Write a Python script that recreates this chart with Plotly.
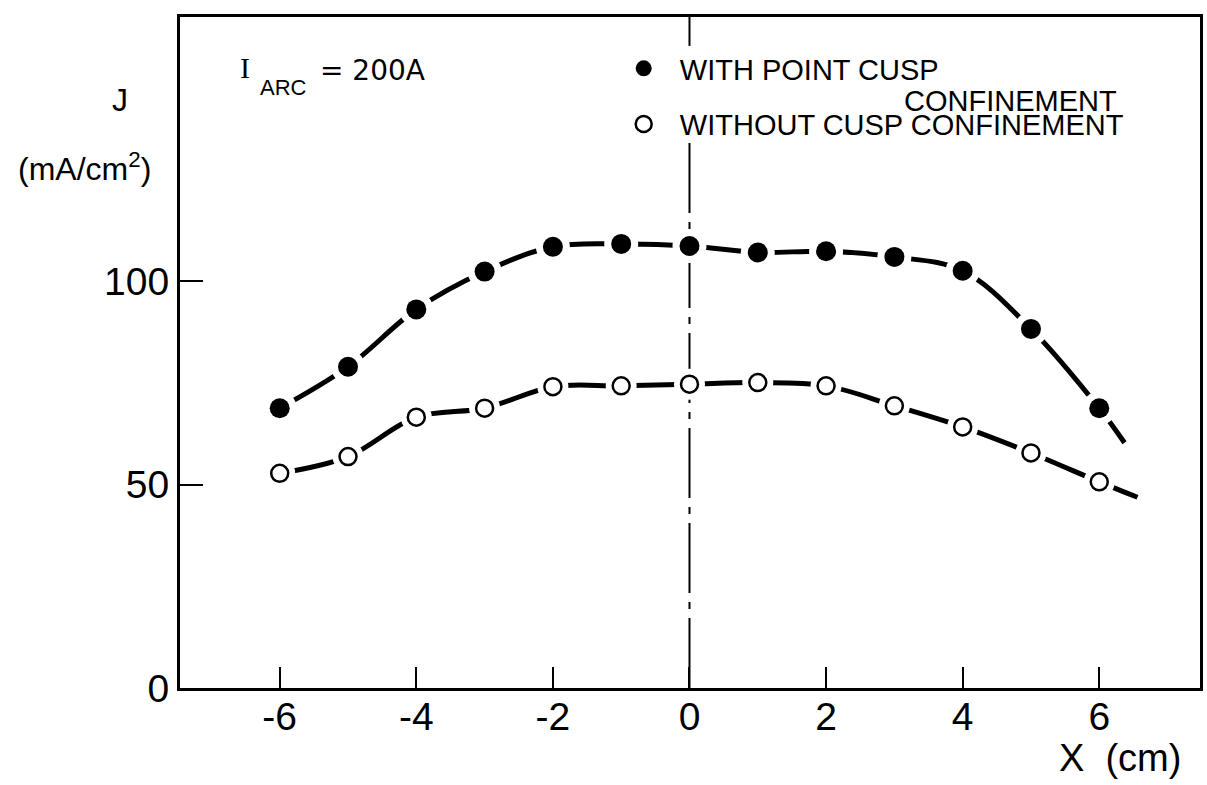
import plotly.graph_objects as go

# Probe position across the extraction grid (cm)
x_cm = [-6, -5, -4, -3, -2, -1, 0, 1, 2, 3, 4, 5, 6]
# Extracted current density J (mA/cm^2) at I_ARC = 200 A
j_cusp = [68.8, 79.0, 93.1, 102.4, 108.5, 109.2, 108.7, 107.1, 107.4, 106.0, 102.6, 88.3, 68.8]
j_no_cusp = [52.8, 56.9, 66.6, 68.8, 74.1, 74.3, 74.7, 75.1, 74.3, 69.4, 64.2, 57.8, 50.7]
# Where each smooth trend curve stops, beyond the last measurement
cusp_curve_end_x, cusp_curve_end_y = 6.37, 60.3
no_cusp_curve_end_x, no_cusp_curve_end_y = 6.56, 46.9

x_ticks = [-6, -4, -2, 0, 2, 4, 6]
x_tick_text = ["-6", "-4", "-2", "0", "2", "4", "6"]
y_ticks = [0, 50, 100]
y_tick_text = ["0", "50", "100"]

# ---- page geometry ----
W, H = 1207, 785
ML, MR, MT, MB = 180, 4, 17, 97
PW, PH = W - ML - MR, H - MT - MB


def px(x):
    return (x - ML) / PW


def py(y):
    return (H - MB - y) / PH


FONT = "Liberation Sans, Arial, sans-serif"
INK = "black"

fig = go.Figure()

# smooth trend curves
fig.add_trace(go.Scatter(
    x=x_cm + [cusp_curve_end_x], y=j_cusp + [cusp_curve_end_y],
    mode="lines", line=dict(color=INK, width=5, shape="spline", smoothing=1.0),
    showlegend=False, hoverinfo="skip"))
fig.add_trace(go.Scatter(
    x=x_cm + [no_cusp_curve_end_x], y=j_no_cusp + [no_cusp_curve_end_y],
    mode="lines", line=dict(color=INK, width=5, shape="spline", smoothing=1.0),
    showlegend=False, hoverinfo="skip"))

# white halos that open a small gap in the curve around each point
fig.add_trace(go.Scatter(x=x_cm, y=j_cusp, mode="markers",
                         marker=dict(color="white", size=34, line=dict(width=0)),
                         showlegend=False, hoverinfo="skip"))
fig.add_trace(go.Scatter(x=x_cm, y=j_no_cusp, mode="markers",
                         marker=dict(color="white", size=31, line=dict(width=0)),
                         showlegend=False, hoverinfo="skip"))

# measured points
fig.add_trace(go.Scatter(
    x=x_cm, y=j_cusp, mode="markers", name="&nbsp;&nbsp;WITH POINT CUSP",
    legendgroup="a",
    marker=dict(symbol="circle", color=INK, size=20, line=dict(width=0))))
fig.add_trace(go.Scatter(
    x=x_cm, y=j_no_cusp, mode="markers", name="&nbsp;&nbsp;WITHOUT CUSP CONFINEMENT",
    legendgroup="b",
    marker=dict(symbol="circle", color="white", size=17, line=dict(color=INK, width=2.5))))

# dash-dot centre line at x = 0, interrupted behind the legend text
centre_dash = "70px,9px,7px,9px"
fig.add_shape(type="line", xref="x", yref="y", x0=0, x1=0, y0=0, y1=134.7,
              line=dict(color=INK, width=2, dash=centre_dash), layer="below")
fig.add_shape(type="line", xref="x", yref="y", x0=0, x1=0, y0=157.9, y1=165,
              line=dict(color=INK, width=2, dash=centre_dash), layer="below")

annotations = [
    dict(text="J", x=px(120), y=py(100), font=dict(family=FONT, size=32, color=INK)),
    dict(text="(mA/cm<sup>2</sup>)", x=px(84), y=py(167),
         font=dict(family=FONT, size=32, color=INK)),
    dict(text="X  (cm)", x=px(1123), y=py(758), font=dict(family=FONT, size=38, color=INK)),
    dict(text="I", x=px(245), y=py(68),
         font=dict(family="Liberation Serif, serif", size=30, color=INK)),
    dict(text="ARC", x=px(284), y=py(88), font=dict(family=FONT, size=22, color=INK)),
    dict(text="= 200A", x=px(318), y=py(70), xanchor="left",
         font=dict(family="DejaVu Sans, sans-serif", size=28, color=INK)),
    dict(text="CONFINEMENT", x=px(1013), y=py(101), font=dict(family=FONT, size=29, color=INK)),
]
for a in annotations:
    a.setdefault("xanchor", "center")
    a.update(xref="paper", yref="paper", yanchor="middle", showarrow=False)

axis_common = dict(showline=True, linewidth=3, linecolor=INK, mirror=True,
                   ticks="inside", tickwidth=2, tickcolor=INK,
                   showgrid=False, zeroline=False,
                   tickfont=dict(family=FONT, size=39, color=INK))

fig.update_layout(
    width=W, height=H,
    margin=dict(l=ML, r=MR, t=MT, b=MB),
    paper_bgcolor="white", plot_bgcolor="white",
    xaxis=dict(range=[-7.46, 7.475], tickvals=x_ticks, ticktext=x_tick_text,
               ticklen=21, ticklabelstandoff=-8, **axis_common),
    yaxis=dict(range=[0, 165], tickvals=y_ticks, ticktext=y_tick_text,
               ticklen=23, **axis_common),
    legend=dict(x=px(625), y=py(43), xanchor="left", yanchor="top",
                bgcolor="rgba(0,0,0,0)", borderwidth=0,
                font=dict(family=FONT, size=29, color=INK),
                traceorder="grouped", tracegroupgap=15, itemsizing="trace"),
    annotations=annotations,
    showlegend=True,
)

fig.write_html("out.html")
